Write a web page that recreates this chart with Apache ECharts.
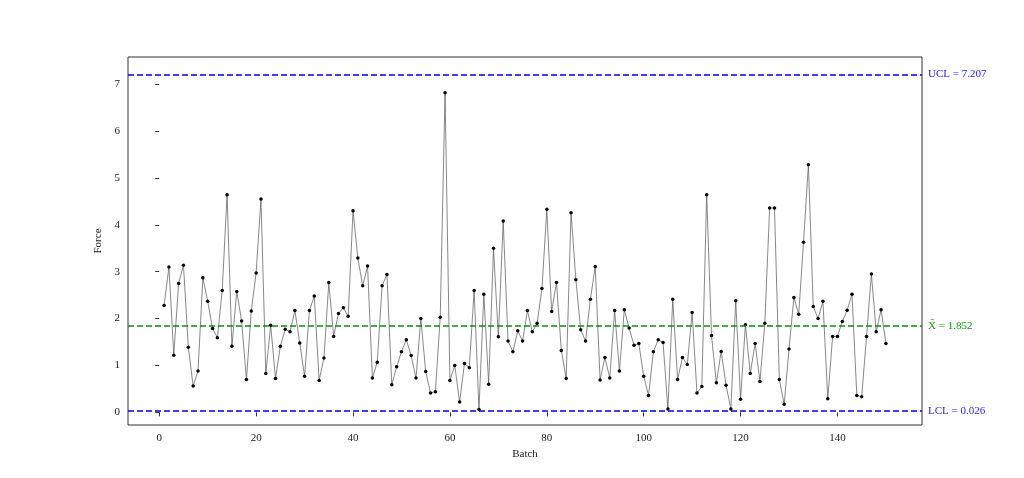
<!DOCTYPE html>
<html><head><meta charset="utf-8">
<script src="https://cdn.jsdelivr.net/npm/echarts@6/dist/echarts.min.js"></script>
<style>html,body{margin:0;padding:0;background:#fff}#c{width:1024px;height:478px}</style>
</head><body><div id="c"></div>
<script>
const forceValues = [2.28,3.10,1.22,2.75,3.14,1.39,0.56,0.88,2.87,2.37,1.79,1.59,2.60,4.64,1.41,2.58,1.95,0.70,2.16,2.97,
4.55,0.83,1.86,0.72,1.41,1.77,1.72,2.17,1.48,0.77,2.17,2.48,0.68,1.16,2.77,1.62,2.11,2.23,2.05,4.30,
3.29,2.70,3.12,0.73,1.07,2.70,2.94,0.59,0.97,1.29,1.55,1.21,0.73,2.00,0.87,0.41,0.44,2.03,6.82,0.68,
1.00,0.22,1.04,0.95,2.60,0.06,2.52,0.60,3.50,1.61,4.08,1.52,1.29,1.74,1.52,2.17,1.72,1.90,2.64,4.33,
2.15,2.77,1.32,0.72,4.26,2.83,1.76,1.52,2.41,3.11,0.69,1.17,0.73,2.17,0.88,2.19,1.80,1.43,1.47,0.77,
0.36,1.29,1.55,1.49,0.07,2.41,0.70,1.17,1.02,2.13,0.41,0.55,4.64,1.64,0.63,1.30,0.58,0.07,2.38,0.28,
1.87,0.83,1.47,0.66,1.90,4.36,4.36,0.70,0.17,1.35,2.45,2.09,3.63,5.28,2.26,2.00,2.37,0.29,1.62,1.62,
1.94,2.18,2.52,0.36,0.33,1.62,2.95,1.72,2.19,1.47];
const batches = forceValues.map((v,i)=>i+1);
const xTicks = [0,20,40,60,80,100,120,140];
const yTicks = [0,1,2,3,4,5,6,7];
const UCL = 7.207, CENTER = 1.852, LCL = 0.026;
const font = 'Liberation Serif';
const chart = echarts.init(document.getElementById('c'));
chart.setOption({
  animation:false,
  grid:{left:128,right:102,top:57,bottom:53,show:true,borderColor:'#333',borderWidth:1},
  xAxis:{type:'value',min:-6.45,max:157.45,name:'Batch',nameLocation:'middle',nameGap:20,
    nameTextStyle:{fontFamily:font,fontSize:11,color:'#222'},
    axisLine:{show:false},splitLine:{show:false},
    axisTick:{show:true,customValues:xTicks,length:4,lineStyle:{color:'#333'}},
    axisLabel:{customValues:xTicks,fontFamily:font,fontSize:11,color:'#222',margin:8}},
  yAxis:{type:'value',min:-0.27,max:7.58,name:'Force',nameLocation:'middle',nameGap:20,
    nameTextStyle:{fontFamily:font,fontSize:11,color:'#222'},
    axisLine:{show:false},splitLine:{show:false},
    axisTick:{show:true,customValues:yTicks,length:4,lineStyle:{color:'#333'}},
    axisLabel:{customValues:yTicks,fontFamily:font,fontSize:11,color:'#222',margin:8}},
  series:[{type:'line',data:batches.map((b,i)=>[b,forceValues[i]]),
    symbol:'circle',symbolSize:3.5,itemStyle:{color:'#000'},
    lineStyle:{color:'#555',width:0.7},
    markLine:{silent:true,symbol:'none',
      data:[
        {yAxis:UCL,lineStyle:{color:'#0000ee',type:[6,3],width:1.5},label:{formatter:'UCL = 7.207',color:'#2222ff'}},
        {yAxis:CENTER,lineStyle:{color:'#118811',type:[6,3],width:1.5},label:{formatter:'X\u0304 = 1.852',color:'#119911'}},
        {yAxis:LCL,lineStyle:{color:'#0000ee',type:[6,3],width:1.5},label:{formatter:'LCL = 0.026',color:'#2222ff'}}
      ],
      label:{position:'end',fontFamily:font,fontSize:11,distance:6}}
  }]
});
</script></body></html>
